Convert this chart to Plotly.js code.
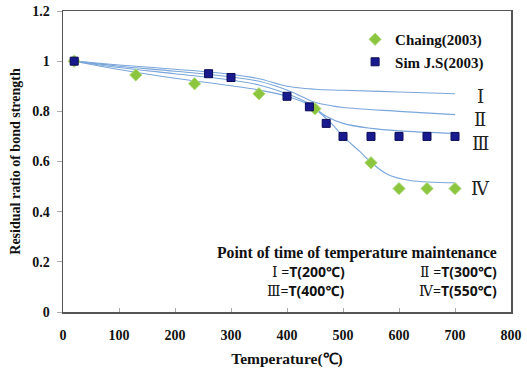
<!DOCTYPE html>
<html>
<head>
<meta charset="utf-8">
<script src="https://cdn.plot.ly/plotly-3.0.1.min.js"></script>
<style>html,body{margin:0;padding:0;background:#fff;}#chart{width:527px;height:372px;}</style>
</head>
<body>
<div id="chart"></div>
<script>
// Measured data
const chaingT = [20, 130, 235, 350, 450, 550, 600, 650, 700];
const chaingR = [1.0, 0.945, 0.91, 0.87, 0.81, 0.595, 0.492, 0.492, 0.492];
const simT = [20, 260, 300, 400, 440, 470, 500, 550, 600, 650, 700];
const simR = [1.0, 0.95, 0.935, 0.86, 0.818, 0.752, 0.70, 0.70, 0.70, 0.70, 0.70];

// Model curves
const curveIT = [20, 100, 200, 300, 350, 400, 450, 500, 600, 700];
const curveIR = [1.0, 0.985, 0.968, 0.948, 0.93, 0.90, 0.888, 0.884, 0.877, 0.870];
const curveIIT = [20, 100, 200, 300, 350, 400, 430, 450, 480, 500, 600, 700];
const curveIIR = [1.0, 0.98, 0.96, 0.937, 0.92, 0.885, 0.855, 0.836, 0.822, 0.815, 0.80, 0.787];
const curveIIIT = [20, 100, 200, 300, 350, 400, 440, 470, 500, 550, 600, 700];
const curveIIIR = [1.0, 0.975, 0.95, 0.925, 0.905, 0.87, 0.83, 0.78, 0.752, 0.732, 0.722, 0.712];
const curveIVT = [20, 100, 200, 300, 350, 400, 440, 480, 500, 530, 550, 580, 620, 700];
const curveIVR = [1.0, 0.967, 0.932, 0.902, 0.885, 0.86, 0.825, 0.75, 0.70, 0.64, 0.597, 0.548, 0.524, 0.515];

const xTicks = [0, 100, 200, 300, 400, 500, 600, 700, 800];
const yTicks = [0, 0.2, 0.4, 0.6, 0.8, 1, 1.2];

const curveColor = '#7aa6da';
const serif = 'Liberation Serif';
const sansB = 'Noto Sans';

function curve(x, y) {
  return {x: x, y: y, mode: 'lines', type: 'scatter', showlegend: false, hoverinfo: 'skip',
    line: {color: curveColor, width: 1.1, shape: 'spline', smoothing: 1}};
}

const traces = [
  curve(curveIT, curveIR), curve(curveIIT, curveIIR), curve(curveIIIT, curveIIIR), curve(curveIVT, curveIVR),
  {x: chaingT, y: chaingR, name: 'Chaing(2003)', mode: 'markers', type: 'scatter',
    marker: {symbol: 'diamond', size: 9.5, color: '#8cc63f', line: {color: '#b5dc86', width: 1}}},
  {x: simT, y: simR, name: 'Sim J.S(2003)', mode: 'markers', type: 'scatter',
    marker: {symbol: 'square', size: 8, color: '#1a1a90', line: {color: '#0a0a55', width: 1}}}
];

function rn(s) { return "<span style='font-family:DejaVu Serif;font-weight:normal'>" + s + "</span>"; }

const annFont = {family: 'DejaVu Serif', size: 18, color: '#222'};
const annotations = [
  {x: 745, y: 0.86, xref: 'x', yref: 'y', text: 'Ⅰ', showarrow: false, font: annFont},
  {x: 745, y: 0.767, xref: 'x', yref: 'y', text: 'Ⅱ', showarrow: false, font: annFont},
  {x: 745, y: 0.672, xref: 'x', yref: 'y', text: 'Ⅲ', showarrow: false, font: annFont},
  {x: 745, y: 0.492, xref: 'x', yref: 'y', text: 'Ⅳ', showarrow: false, font: annFont},
  {x: 778, y: 0.237, xref: 'x', yref: 'y', xanchor: 'right', text: '<b>Point of time of temperature maintenance</b>', showarrow: false,
    font: {family: serif, size: 15.7, color: '#111'}},
  {x: 370, y: 0.163, xref: 'x', yref: 'y', xanchor: 'left', text: rn('Ⅰ') + ' =<b>T(200℃)</b>', showarrow: false,
    font: {family: sansB, size: 14, color: '#111'}},
  {x: 778, y: 0.163, xref: 'x', yref: 'y', xanchor: 'right', text: rn('Ⅱ') + ' =<b>T(300℃)</b>', showarrow: false,
    font: {family: sansB, size: 14, color: '#111'}},
  {x: 360, y: 0.085, xref: 'x', yref: 'y', xanchor: 'left', text: rn('Ⅲ') + '=<b>T(400℃)</b>', showarrow: false,
    font: {family: sansB, size: 14, color: '#111'}},
  {x: 778, y: 0.085, xref: 'x', yref: 'y', xanchor: 'right', text: rn('Ⅳ') + '=<b>T(550℃)</b>', showarrow: false,
    font: {family: sansB, size: 14, color: '#111'}}
];

const tickFont = {family: serif, size: 14, color: '#111', weight: 'bold'};

const layout = {
  width: 527, height: 372,
  margin: {l: 63, r: 16, t: 11, b: 60},
  paper_bgcolor: '#fff', plot_bgcolor: '#fff',
  font: {family: serif},
  showlegend: true,
  legend: {x: 0.652, y: 0.96, xanchor: 'left', yanchor: 'top', bgcolor: 'rgba(0,0,0,0)',
    font: {family: serif, size: 15, color: '#111', weight: 'bold'}, itemwidth: 30, tracegroupgap: 0},
  xaxis: {range: [0, 800], tickvals: xTicks, ticktext: xTicks.map(String), showgrid: false, zeroline: false,
    showline: true, linecolor: '#555', linewidth: 1.5, mirror: true,
    ticks: 'inside', ticklen: 4, tickcolor: '#aaa', tickfont: tickFont, ticklabelstandoff: 10,
    title: {text: '<b>Temperature(℃)</b>', font: {family: serif, size: 15.5, color: '#111'}, standoff: 11}},
  yaxis: {range: [0, 1.2], tickvals: yTicks, ticktext: yTicks.map(String), showgrid: false, zeroline: false,
    showline: true, linecolor: '#555', linewidth: 1.5, mirror: true,
    ticks: 'outside', ticklen: 5, tickcolor: '#aaa', tickfont: tickFont, ticklabelstandoff: 4,
    title: {text: '<b>Residual ratio of bond strength</b>', font: {family: serif, size: 14, color: '#111'}, standoff: 8}},
  annotations: annotations
};

Plotly.newPlot('chart', traces, layout, {displayModeBar: false, staticPlot: true});
</script>
</body>
</html>
